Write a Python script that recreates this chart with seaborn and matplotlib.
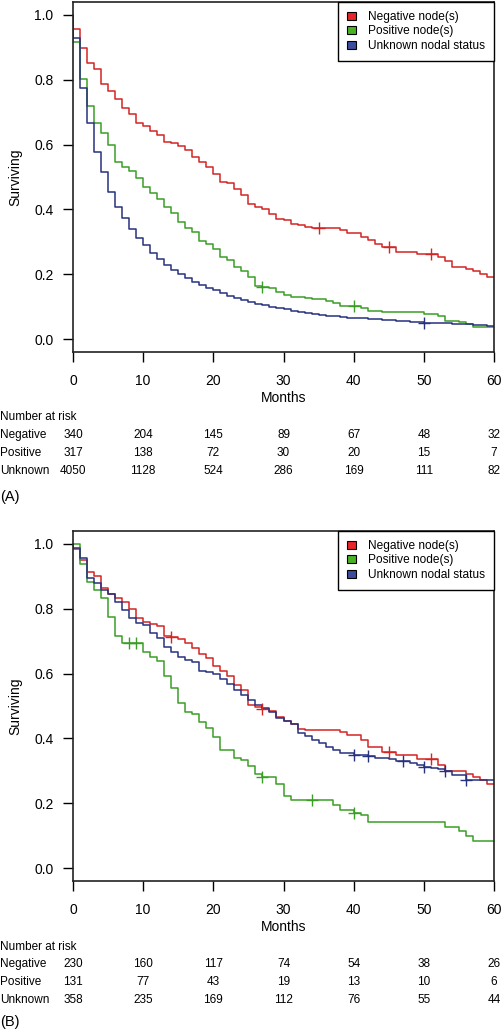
import numpy as np
import pandas as pd
import matplotlib
matplotlib.use("Agg")
import matplotlib.pyplot as plt
import seaborn as sns
from matplotlib.patches import Patch
from matplotlib.transforms import blended_transform_factory

# survival estimate for each month interval [t, t+1), t = 0..59
neg_A = [0.956, 0.899, 0.852, 0.833, 0.786, 0.766, 0.741, 0.712, 0.695, 0.667,
         0.656, 0.643, 0.631, 0.609, 0.604, 0.596, 0.582, 0.563, 0.545, 0.530,
         0.508, 0.486, 0.482, 0.463, 0.444, 0.416, 0.408, 0.400, 0.386, 0.371,
         0.367, 0.355, 0.351, 0.347, 0.342, 0.342, 0.342, 0.342, 0.336, 0.328,
         0.328, 0.314, 0.306, 0.293, 0.285, 0.285, 0.269, 0.269, 0.269, 0.263,
         0.263, 0.263, 0.252, 0.241, 0.223, 0.223, 0.217, 0.211, 0.202, 0.192]
pos_A = [0.918, 0.802, 0.719, 0.668, 0.637, 0.599, 0.546, 0.532, 0.520, 0.498,
         0.469, 0.450, 0.433, 0.408, 0.388, 0.360, 0.343, 0.330, 0.303, 0.292,
         0.278, 0.252, 0.244, 0.223, 0.211, 0.192, 0.165, 0.161, 0.156, 0.146,
         0.136, 0.131, 0.131, 0.126, 0.122, 0.122, 0.117, 0.112, 0.103, 0.103,
         0.103, 0.097, 0.086, 0.086, 0.082, 0.082, 0.082, 0.082, 0.082, 0.082,
         0.077, 0.077, 0.071, 0.056, 0.056, 0.053, 0.046, 0.038, 0.038, 0.038]
unk_A = [0.930, 0.774, 0.668, 0.577, 0.514, 0.455, 0.408, 0.375, 0.341, 0.312,
         0.289, 0.264, 0.246, 0.228, 0.214, 0.200, 0.187, 0.176, 0.166, 0.158,
         0.150, 0.143, 0.134, 0.126, 0.120, 0.115, 0.108, 0.104, 0.100, 0.095,
         0.092, 0.086, 0.083, 0.079, 0.076, 0.074, 0.072, 0.070, 0.067, 0.066,
         0.065, 0.064, 0.063, 0.062, 0.060, 0.059, 0.057, 0.056, 0.054, 0.052,
         0.051, 0.050, 0.049, 0.048, 0.047, 0.046, 0.045, 0.043, 0.042, 0.040]

neg_B = [0.986, 0.950, 0.915, 0.902, 0.863, 0.847, 0.833, 0.820, 0.799, 0.773,
         0.758, 0.753, 0.748, 0.717, 0.714, 0.707, 0.694, 0.679, 0.662, 0.647,
         0.622, 0.609, 0.594, 0.566, 0.548, 0.502, 0.497, 0.490, 0.486, 0.466,
         0.455, 0.445, 0.430, 0.427, 0.427, 0.427, 0.427, 0.427, 0.420, 0.409,
         0.409, 0.394, 0.373, 0.373, 0.358, 0.358, 0.348, 0.348, 0.348, 0.335,
         0.335, 0.335, 0.317, 0.300, 0.298, 0.298, 0.290, 0.281, 0.273, 0.260]
pos_B = [1.000, 0.939, 0.884, 0.857, 0.833, 0.776, 0.717, 0.693, 0.693, 0.693,
         0.666, 0.650, 0.640, 0.594, 0.555, 0.509, 0.483, 0.476, 0.452, 0.432,
         0.404, 0.363, 0.363, 0.341, 0.332, 0.314, 0.290, 0.281, 0.281, 0.260,
         0.222, 0.209, 0.209, 0.209, 0.209, 0.209, 0.209, 0.195, 0.180, 0.180,
         0.170, 0.163, 0.142, 0.142, 0.142, 0.142, 0.142, 0.142, 0.142, 0.142,
         0.142, 0.142, 0.142, 0.127, 0.127, 0.114, 0.099, 0.084, 0.084, 0.084]
unk_B = [0.988, 0.956, 0.894, 0.879, 0.857, 0.847, 0.820, 0.796, 0.771, 0.755,
         0.751, 0.724, 0.710, 0.683, 0.666, 0.650, 0.643, 0.635, 0.609, 0.604,
         0.599, 0.584, 0.568, 0.550, 0.535, 0.517, 0.502, 0.495, 0.481, 0.464,
         0.455, 0.443, 0.417, 0.406, 0.396, 0.386, 0.373, 0.363, 0.355, 0.355,
         0.350, 0.350, 0.345, 0.341, 0.341, 0.336, 0.330, 0.330, 0.325, 0.318,
         0.311, 0.309, 0.305, 0.300, 0.288, 0.288, 0.271, 0.271, 0.271, 0.271]

# censoring marks (months)
cens_A = {"Negative": [35, 45, 51], "Positive": [27, 40], "Unknown": [50]}
cens_B = {"Negative": [14, 27, 45, 51], "Positive": [8, 9, 27, 34, 40],
          "Unknown": [40, 42, 47, 50, 53, 56]}

# number at risk table
risk_months = [0, 10, 20, 30, 40, 50, 60]
risk_A = {"Negative": [340, 204, 145, 89, 67, 48, 32],
          "Positive": [317, 138, 72, 30, 20, 15, 7],
          "Unknown": [4050, 1128, 524, 286, 169, 111, 82]}
risk_B = {"Negative": [230, 160, 117, 74, 54, 38, 26],
          "Positive": [131, 77, 43, 19, 13, 10, 6],
          "Unknown": [358, 235, 169, 112, 76, 55, 44]}

groups = ["Negative", "Positive", "Unknown"]
legend_labels = ["Negative node(s)", "Positive node(s)", "Unknown nodal status"]
line_colors = {"Negative": "#d42424", "Positive": "#3a9e26", "Unknown": "#27327e"}
fill_colors = ["#e8262a", "#48b224", "#3d4c9c"]

sns.set_theme(style="white")
plt.rcParams["font.family"] = ["Liberation Sans", "DejaVu Sans"]
plt.rcParams["text.color"] = "black"
plt.rcParams["axes.labelcolor"] = "black"
plt.rcParams["xtick.color"] = "black"
plt.rcParams["ytick.color"] = "black"


def long_df(curves):
    rows = []
    for g, vals in curves.items():
        # start at 1.0, then month-by-month steps, last value held to 60
        times = [0] + list(range(len(vals))) + [len(vals)]
        surv = [1.0] + list(vals) + [vals[-1]]
        rows.append(pd.DataFrame({"Months": times, "Surviving": surv, "group": g}))
    return pd.concat(rows, ignore_index=True)


fig = plt.figure(figsize=(5.02, 10.30), dpi=100)
W, H = 502, 1030
axA = fig.add_axes([73 / W, 1 - 352 / H, 421 / W, 350 / H])
axB = fig.add_axes([73 / W, 1 - 881 / H, 421 / W, 350 / H])

panels = [
    (axA, {"Negative": neg_A, "Positive": pos_A, "Unknown": unk_A}, cens_A, risk_A,
     "(A)", [417, 435, 453, 471, 497]),
    (axB, {"Negative": neg_B, "Positive": pos_B, "Unknown": unk_B}, cens_B, risk_B,
     "(B)", [947, 964, 982, 1000, 1022]),
]

for ax, curves, cens, risk, tag, rows_y in panels:
    df = long_df(curves)
    sns.lineplot(data=df, x="Months", y="Surviving", hue="group", palette=line_colors,
                 estimator=None, sort=False, drawstyle="steps-post", linewidth=1.1,
                 legend=False, ax=ax)
    for g in groups:
        vals = curves[g]
        ct = cens[g]
        cy = [vals[min(int(t), len(vals) - 1)] for t in ct]
        ax.plot(ct, cy, linestyle="none", marker="+", markersize=9, mew=1.0,
                color=line_colors[g])

    ax.set_xlim(0, 60)
    ax.set_ylim(-0.04, 1.04)
    ax.set_xticks(range(0, 61, 10))
    ax.set_yticks([0, 0.2, 0.4, 0.6, 0.8, 1.0])
    ax.set_yticklabels(["0.0", "0.2", "0.4", "0.6", "0.8", "1.0"])
    ax.tick_params(axis="both", direction="out", length=7, width=1.0, labelsize=10,
                   bottom=True, left=True)
    ax.tick_params(axis="x", pad=9)
    ax.tick_params(axis="y", pad=7)
    for sp in ax.spines.values():
        sp.set_visible(True)
        sp.set_color("#222222")
        sp.set_linewidth(1.2)

    ax.set_xlabel("Months", fontsize=10)
    ax.xaxis.set_label_coords(0.5, -0.131)
    ax.xaxis.label.set_va("center")
    ax.set_ylabel("Surviving", fontsize=10)
    ax.yaxis.set_label_coords(-0.138, 0.5)
    ax.yaxis.label.set_va("center")

    handles = [Patch(facecolor=c, edgecolor="black", linewidth=0.8) for c in fill_colors]
    leg = ax.legend(handles, legend_labels, loc="upper right", bbox_to_anchor=(1, 1),
                    borderaxespad=0, fontsize=8.6, frameon=True, fancybox=False,
                    framealpha=1, edgecolor="black", handlelength=0.75,
                    handleheight=0.65, handletextpad=1.0, labelspacing=0.2,
                    borderpad=0.75)
    leg.get_frame().set_linewidth(1.0)

    # number at risk
    trans = blended_transform_factory(ax.transData, fig.transFigure)
    fig.text(0.0, 1 - rows_y[0] / H, "Number at risk", fontsize=8.5, va="center", ha="left")
    for g, yy in zip(groups, rows_y[1:4]):
        fig.text(0.0, 1 - yy / H, g, fontsize=8.5, va="center", ha="left")
        for m, n in zip(risk_months, risk[g]):
            ax.text(m, 1 - yy / H, str(n), transform=trans, fontsize=8.5,
                    va="center", ha="center", clip_on=False)
    fig.text(0.0, 1 - rows_y[4] / H, tag, fontsize=10.5, va="center", ha="left")

fig.savefig("out.png", dpi=100)
